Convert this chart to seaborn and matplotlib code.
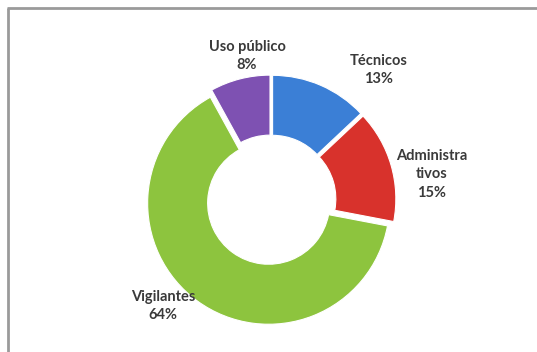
import matplotlib
matplotlib.use("Agg")
import matplotlib.pyplot as plt
import seaborn as sns

# Distribución del personal
categorias = ["Técnicos", "Administra\ntivos", "Vigilantes", "Uso público"]
porcentajes = [13, 15, 64, 8]
colores = ["#3b7fd6", "#d8322c", "#8dc43e", "#7e51b2"]

sns.set_theme(style="white")
plt.rcParams["font.family"] = ["Lato", "DejaVu Sans"]

fig = plt.figure(figsize=(5.37, 3.52), dpi=100)
ax = fig.add_axes([0, 0, 1, 1])

# eje en píxeles para controlar la posición del anillo
wedges, _ = ax.pie(
    porcentajes,
    colors=colores,
    startangle=90,
    counterclock=False,
    radius=121,
    center=(271, 152),
    explode=[4] * len(porcentajes),
    wedgeprops=dict(width=60, edgecolor="white", linewidth=0.8),
    frame=True,
)
ax.set_xlim(0, 537)
ax.set_ylim(0, 352)
ax.set_aspect("equal")
ax.axis("off")

# etiquetas
pos_etiquetas = [(379, 298), (432, 203), (163, 62), (247, 312)]
for cat, pct, (x, y) in zip(categorias, porcentajes, pos_etiquetas):
    ax.text(x, y, f"{cat}\n{pct}%", ha="center", va="top", fontsize=10.5,
            fontweight="bold", color="#3a3a3a", linespacing=1.4)

# marco
ax.plot([7.5, 7.5], [0, 344], color="#9a9a9a", lw=2, solid_capstyle="butt")
ax.plot([7, 537], [344, 344], color="#9a9a9a", lw=2, solid_capstyle="butt")

fig.savefig("out.png", dpi=100)
